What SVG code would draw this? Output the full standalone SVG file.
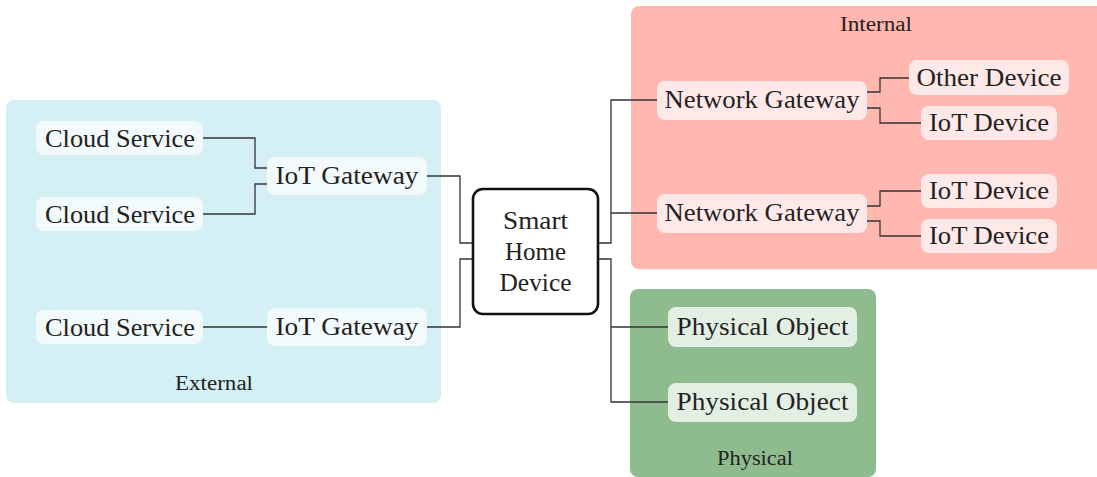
<svg xmlns="http://www.w3.org/2000/svg" width="1097" height="477" viewBox="0 0 1097 477">
<style>
text{font-family:"Liberation Serif","DejaVu Serif",serif;fill:#222;text-anchor:middle}
.n{font-size:25px}
.lbl{font-size:20px}
.ext{fill:#f2fafc}
.int{fill:#ffe9e8}
.phy{fill:#e4efe4}
.c{fill:none;stroke:#333;stroke-width:1.3}
</style>
<rect x="6" y="100" width="435" height="303" rx="8" fill="#d4f0f5"/>
<rect x="631" y="6" width="475" height="263" rx="8" fill="#ffb7b0"/>
<rect x="630" y="289" width="246" height="188" rx="8" fill="#8fbc8f"/>
<text class="lbl" x="214" y="390" textLength="78" lengthAdjust="spacingAndGlyphs">External</text>
<text class="lbl" x="876" y="31" textLength="72" lengthAdjust="spacingAndGlyphs">Internal</text>
<text class="lbl" x="755" y="465" textLength="76" lengthAdjust="spacingAndGlyphs">Physical</text>
<g id="connectors">
<path class="c" d="M203,138 H255 V168 H267"/>
<path class="c" d="M203,214 H255 V184 H267"/>
<path class="c" d="M203,327 H267"/>
<path class="c" d="M427,176 H460 V243 H473"/>
<path class="c" d="M427,327 H460 V259 H473"/>
<path class="c" d="M598,243 H611 V100 H657"/>
<path class="c" d="M611,213 H657"/>
<path class="c" d="M598,259 H611 V402 H668"/>
<path class="c" d="M611,327 H668"/>
<path class="c" d="M867,92 H880 V78 H909"/>
<path class="c" d="M867,108 H880 V123 H921"/>
<path class="c" d="M867,206 H880 V191 H921"/>
<path class="c" d="M867,221 H880 V236 H921"/>
</g>
<g id="cs1"><rect class="ext" x="36" y="121" width="167" height="34" rx="8"/><text class="n" x="120" y="147" textLength="150" lengthAdjust="spacingAndGlyphs">Cloud Service</text></g>
<g id="cs2"><rect class="ext" x="36" y="197" width="167" height="34" rx="8"/><text class="n" x="120" y="223" textLength="150" lengthAdjust="spacingAndGlyphs">Cloud Service</text></g>
<g id="cs3"><rect class="ext" x="36" y="310" width="167" height="34" rx="8"/><text class="n" x="120" y="336" textLength="150" lengthAdjust="spacingAndGlyphs">Cloud Service</text></g>
<g id="gw1"><rect class="ext" x="267" y="157" width="160" height="38" rx="8"/><text class="n" x="347" y="184" textLength="143" lengthAdjust="spacingAndGlyphs">IoT Gateway</text></g>
<g id="gw2"><rect class="ext" x="267" y="308" width="160" height="38" rx="8"/><text class="n" x="347" y="335" textLength="143" lengthAdjust="spacingAndGlyphs">IoT Gateway</text></g>
<g id="smart"><rect x="473" y="189" width="125" height="125" rx="10" fill="#fff" stroke="#111" stroke-width="2.6"/>
<text class="n" x="535.5" y="229" textLength="65" lengthAdjust="spacingAndGlyphs">Smart</text><text class="n" x="535.5" y="260" textLength="61" lengthAdjust="spacingAndGlyphs">Home</text><text class="n" x="535.5" y="291" textLength="72" lengthAdjust="spacingAndGlyphs">Device</text></g>
<g id="ng1"><rect class="int" x="657" y="81" width="210" height="39" rx="8"/><text class="n" x="762" y="108" textLength="195" lengthAdjust="spacingAndGlyphs">Network Gateway</text></g>
<g id="ng2"><rect class="int" x="657" y="194" width="210" height="39" rx="8"/><text class="n" x="762" y="221" textLength="195" lengthAdjust="spacingAndGlyphs">Network Gateway</text></g>
<g id="od"><rect class="int" x="909" y="60" width="160" height="35" rx="8"/><text class="n" x="989" y="86" textLength="145" lengthAdjust="spacingAndGlyphs">Other Device</text></g>
<g id="iot1"><rect class="int" x="921" y="106" width="136" height="34" rx="8"/><text class="n" x="989" y="131" textLength="120" lengthAdjust="spacingAndGlyphs">IoT Device</text></g>
<g id="iot2"><rect class="int" x="921" y="174" width="136" height="34" rx="8"/><text class="n" x="989" y="199" textLength="120" lengthAdjust="spacingAndGlyphs">IoT Device</text></g>
<g id="iot3"><rect class="int" x="921" y="219" width="136" height="34" rx="8"/><text class="n" x="989" y="244" textLength="120" lengthAdjust="spacingAndGlyphs">IoT Device</text></g>
<g id="po1"><rect class="phy" x="668" y="307" width="189" height="40" rx="8"/><text class="n" x="762.5" y="335" textLength="172" lengthAdjust="spacingAndGlyphs">Physical Object</text></g>
<g id="po2"><rect class="phy" x="668" y="383" width="189" height="39" rx="8"/><text class="n" x="762.5" y="410" textLength="172" lengthAdjust="spacingAndGlyphs">Physical Object</text></g>
</svg>
